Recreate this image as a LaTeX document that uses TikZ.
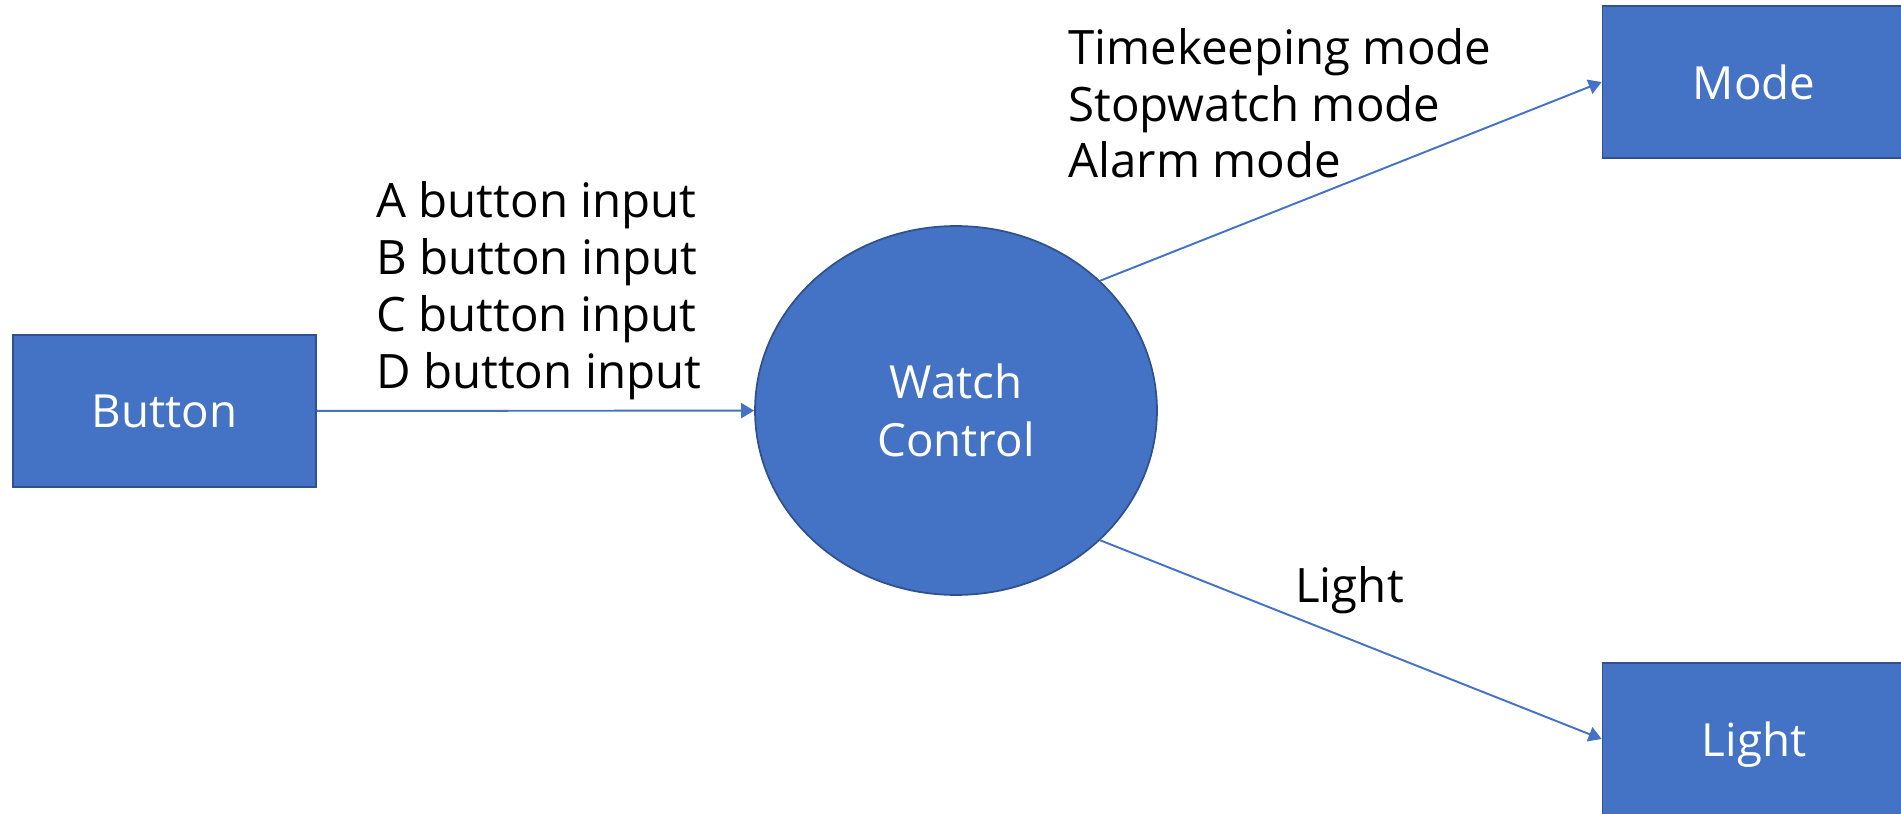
\documentclass[tikz,border=0pt]{standalone}
\usepackage{fontspec}
\setmainfont{Open Sans}
\usetikzlibrary{arrows.meta,shapes.geometric}
\definecolor{accent}{HTML}{4472C4}
\definecolor{accentdark}{HTML}{2F528F}

\begin{document}
\begin{tikzpicture}[x=0.02cm, y=-0.02cm,
  box/.style={draw=accentdark, line width=1pt, fill=accent, text=white, minimum width=6.06cm, minimum height=3.04cm, inner sep=0pt, text depth=0pt, font=\fontsize{26}{33}\selectfont},
  flow/.style={draw=accent, line width=1.1pt, -{Triangle[length=0.26cm,width=0.3cm]}},
  lbl/.style={font=\fontsize{27}{32.4}\selectfont, align=left, inner sep=0pt}]
  \useasboundingbox (0,0) rectangle (1901,814);
  \node (btn) [box] at (164.5,411) {Button};
  \node (wc) [box, ellipse, minimum width=8.04cm, minimum height=7.38cm, align=center] at (956,410.5) {Watch\\Control};
  \node (mode) [box] at (1754,82) {Mode};
  \node (light) [box] at (1754,739) {Light};
  \draw[flow] (btn) -- (wc);
  \draw[flow] (wc.42.5) -- (mode.west);
  \draw[flow] (wc.-42.5) -- (light.west);
  % labels, anchored at the baseline of their last line
  \node (inputs) [lbl, anchor=base west] at (376,388) {A button input\\B button input\\C button input\\D button input};
  \node (modes) [lbl, anchor=base west] at (1068,178) {Timekeeping mode\\Stopwatch mode\\Alarm mode};
  \node (lightlbl) [lbl, anchor=base west] at (1295,602) {Light};
\end{tikzpicture}
\end{document}
